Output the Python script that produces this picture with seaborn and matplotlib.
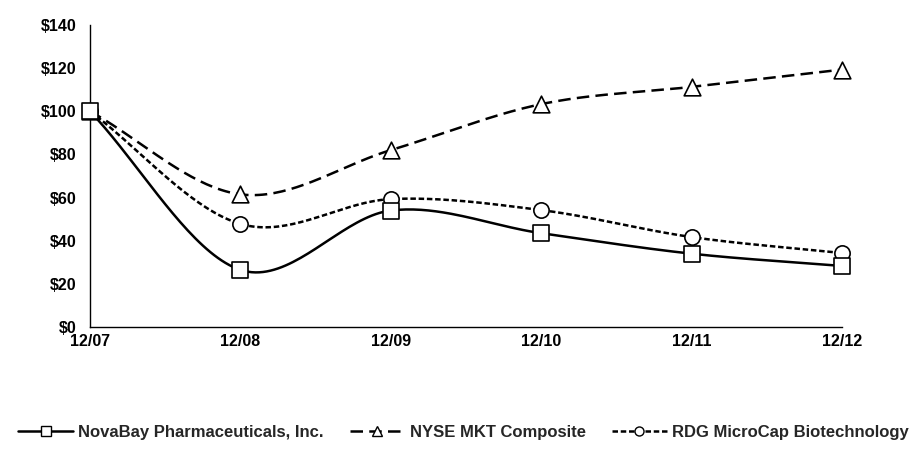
import numpy as np
import pandas as pd
import seaborn as sns
import matplotlib
matplotlib.use("Agg")
import matplotlib.pyplot as plt
from matplotlib.lines import Line2D

# ---- data ----
periods = ["12/07", "12/08", "12/09", "12/10", "12/11", "12/12"]
novabay = [100, 26.5, 54, 43.5, 34, 28.3]
nyse = [100, 61.5, 82, 103.3, 111.3, 119.3]
rdg = [100, 47.8, 59.3, 54.2, 41.7, 34.3]
series_names = ["NovaBay Pharmaceuticals, Inc.", "NYSE MKT Composite", "RDG MicroCap Biotechnology"]
yticks = [0, 20, 40, 60, 80, 100, 120, 140]

sns.set_theme(style="white")
plt.rcParams["font.family"] = ["Liberation Sans", "DejaVu Sans"]


def smooth(vals, n=40):
    """Catmull-Rom style (Excel smoothed line) rendering of a series."""
    p = np.asarray(vals, dtype=float)
    k = len(p)
    xs, ys = [], []
    for i in range(k - 1):
        m0 = (p[i + 1] - p[i - 1]) / 2 if i > 0 else (p[1] - p[0])
        m1 = (p[i + 2] - p[i]) / 2 if i + 2 < k else (p[k - 1] - p[k - 2])
        t = np.linspace(0, 1, n, endpoint=(i == k - 2))
        h00 = 2 * t**3 - 3 * t**2 + 1
        h10 = t**3 - 2 * t**2 + t
        h01 = -2 * t**3 + 3 * t**2
        h11 = t**3 - t**2
        ys.append(h00 * p[i] + h10 * m0 + h01 * p[i + 1] + h11 * m1)
        xs.append(i + t)
    return np.concatenate(xs), np.concatenate(ys)


fig = plt.figure(figsize=(9.12, 4.53), dpi=100)
ax = fig.add_axes([0.0987, 0.278, 0.8246, 0.667])

styles = [
    dict(dashes=None, marker="s", ms=11, z=7),
    dict(dashes=(5, 2.5), marker="^", ms=12, z=6),
    dict(dashes=(2.2, 1.1), marker="o", ms=11, z=5),
]
handles = []
for name, vals, st in zip(series_names, [novabay, nyse, rdg], styles):
    sx, sy = smooth(vals)
    df = pd.DataFrame({"x": sx, "y": sy})
    sns.lineplot(data=df, x="x", y="y", color="black", linewidth=1.8, ax=ax,
                 legend=False, sort=False, estimator=None)
    line = ax.get_lines()[-1]
    line.set_clip_on(False)
    if st["dashes"] is not None:
        line.set_dashes(st["dashes"])
    pts = pd.DataFrame({"x": np.arange(len(vals)), "y": vals})
    sns.scatterplot(data=pts, x="x", y="y", marker=st["marker"], s=st["ms"] ** 2,
                    facecolor="white", edgecolor="black", linewidth=1.2, ax=ax,
                    legend=False, zorder=st["z"], clip_on=False)
    h = Line2D([], [], color="black", linewidth=1.8, marker=st["marker"],
               markersize=6.5, markerfacecolor="white", markeredgecolor="black",
               markeredgewidth=1.0)
    if st["dashes"] is not None:
        h.set_dashes(st["dashes"])
    handles.append(h)

ax.set_xlim(0, 5)
ax.set_ylim(0, 140)
ax.set_xticks(range(len(periods)))
ax.set_xticklabels(periods)
ax.set_yticks(yticks)
ax.set_yticklabels([f"${v}" for v in yticks])
ax.set_xlabel("")
ax.set_ylabel("")
for s in ["top", "right"]:
    ax.spines[s].set_visible(False)
for s in ["left", "bottom"]:
    ax.spines[s].set_color("black")
    ax.spines[s].set_linewidth(1.0)
ax.tick_params(axis="both", which="both", colors="black", labelsize=11.5,
               length=4, width=0.8, direction="inout")
ax.tick_params(axis="y", pad=8)
ax.tick_params(axis="x", pad=3)
for lab in ax.get_xticklabels() + ax.get_yticklabels():
    lab.set_fontweight("bold")

fig.legend(handles, series_names, loc="center", bbox_to_anchor=(0.508, 0.046),
           ncol=3, frameon=False, handlelength=3.3, handletextpad=0.3,
           columnspacing=1.55, borderpad=0.2, borderaxespad=0.0,
           prop=dict(weight="bold", size=12))

fig.savefig("out.png", dpi=100, facecolor="white")
